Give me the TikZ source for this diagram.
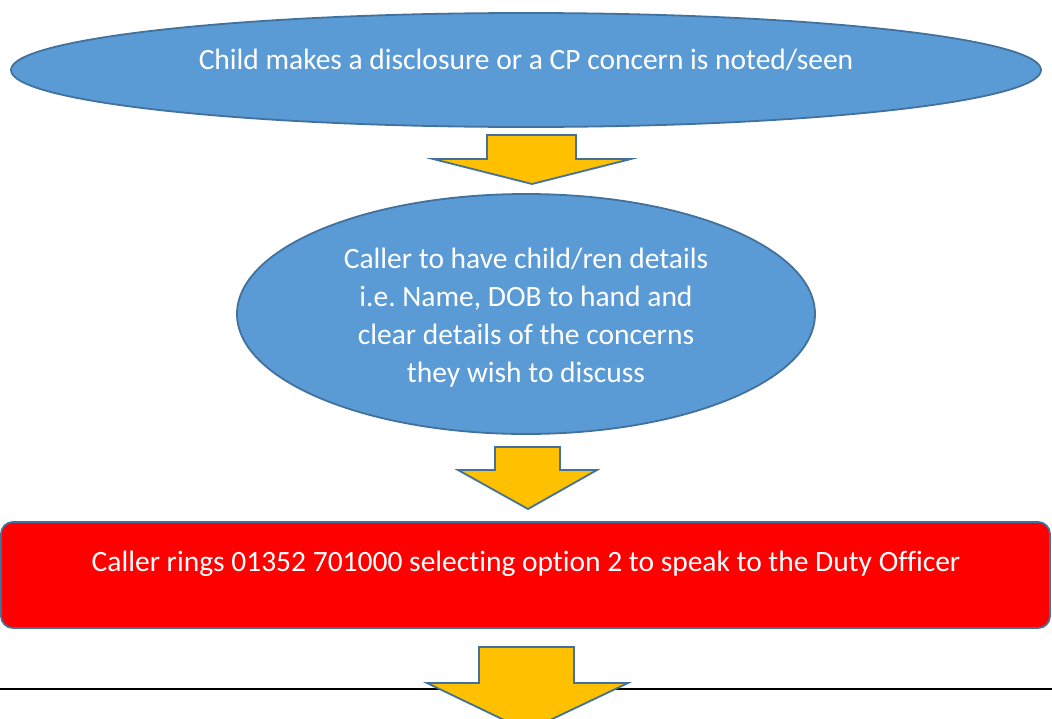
\documentclass[tikz,border=0pt]{standalone}
\usepackage{fontspec}
\setmainfont[Ligatures=NoCommon]{Carlito}
\usepackage{xcolor}
\definecolor{ovalblue}{HTML}{5B9BD5}
\definecolor{edgeblue}{HTML}{41719C}
\definecolor{arrowgold}{HTML}{FFC000}
\begin{document}
\begin{tikzpicture}[x=1pt,y=-1pt,line width=1.8pt]
\useasboundingbox (0,0) rectangle (1052,718);
\clip (0,0) rectangle (1052,718);
\draw  [line width=1.2pt] (0,689) -- (1052,689);
\draw  [fill=ovalblue,draw=edgeblue] (526,70) ellipse (515 and 57);
\node [text=white,font=\fontsize{29.5}{38}\selectfont] (disclosure) at (526,60) {Child makes a disclosure or a CP concern is noted/seen};
\draw  [fill=arrowgold,draw=edgeblue] (487,135) -- (576,135) -- (576,159) -- (631,159) -- (532,184) -- (433,159) -- (487,159) -- cycle;
\draw  [fill=ovalblue,draw=edgeblue] (526,314) ellipse (289 and 120);
\node [text=white,align=center,font=\fontsize{29.5}{38}\selectfont] (details) at (526,318) {Caller to have child/ren details\\ i.e.\ Name, DOB to hand and\\ clear details of the concerns\\ they wish to discuss};
\draw  [fill=arrowgold,draw=edgeblue] (495,447) -- (560,447) -- (560,470) -- (597,470) -- (528,509) -- (458,470) -- (495,470) -- cycle;
\draw  [fill=red,draw=edgeblue,rounded corners=12pt] (1,522) rectangle (1050,628);
\node [text=white,font=\fontsize{29.5}{38}\selectfont] (duty) at (526,564) {Caller rings 01352 701000 selecting option 2 to speak to the Duty Officer};
\draw  [fill=arrowgold,draw=edgeblue] (479,647) -- (574,647) -- (574,683) -- (628,683) -- (527,731) -- (427,683) -- (479,683) -- cycle;
\end{tikzpicture}
\end{document}
